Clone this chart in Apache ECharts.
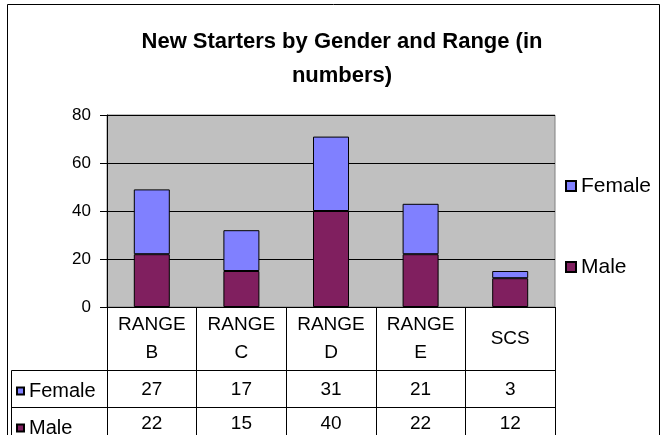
<!DOCTYPE html>
<html>
<head>
<meta charset="utf-8">
<script src="https://cdn.jsdelivr.net/npm/echarts@6/dist/echarts.min.js"></script>
<style>
html,body{margin:0;padding:0;background:#fff;}
#chart{width:664px;height:435px;}
</style>
</head>
<body>
<div id="chart"></div>
<script>
var categories = ['RANGE\nB', 'RANGE\nC', 'RANGE\nD', 'RANGE\nE', 'SCS'];
var femaleValues = [27, 17, 31, 21, 3];
var maleValues = [22, 15, 40, 22, 12];
var yTicks = [0, 20, 40, 60, 80];

var FONT = 'Liberation Sans, Arial, sans-serif';
var chart = echarts.init(document.getElementById('chart'), null, {renderer: 'canvas'});

var option = {
  backgroundColor: '#ffffff',
  animation: false,
  title: {
    text: 'New Starters by Gender and Range (in\nnumbers)',
    left: 337,
    textAlign: 'center',
    top: 20,
    textStyle: {fontFamily: FONT, fontWeight: 'bold', fontSize: 22, lineHeight: 34, color: '#000'}
  },
  legend: [
    {
      data: ['Female', 'Male'],
      orient: 'vertical',
      left: 565,
      top: 175,
      padding: 0,
      itemWidth: 10,
      itemHeight: 10,
      itemGap: 59,
      icon: 'rect',
      textStyle: {fontFamily: FONT, fontSize: 21, lineHeight: 22, color: '#000'}
    },
    {
      data: ['Female', 'Male'],
      orient: 'vertical',
      left: 16,
      top: 381,
      width: 90,
      height: 120,
      padding: 0,
      itemWidth: 7,
      itemHeight: 7,
      itemGap: 17,
      icon: 'rect',
      textStyle: {fontFamily: FONT, fontSize: 20, lineHeight: 18, color: '#000'}
    }
  ],
  grid: {
    left: 107, right: 109, top: 115, bottom: 128,
    show: true,
    backgroundColor: '#c0c0c0',
    borderColor: '#808080',
    borderWidth: 1
  },
  xAxis: [
    {
      type: 'category',
      data: categories,
      position: 'bottom',
      axisLine: {lineStyle: {color: '#000', width: 1}},
      axisTick: {show: true, interval: 0, length: 128, lineStyle: {color: '#000'}},
      axisLabel: {
        interval: 0, margin: 32, verticalAlign: 'middle',
        fontFamily: FONT, fontSize: 19, lineHeight: 28, color: '#000'
      }
    },
    {
      type: 'category',
      data: femaleValues.map(String),
      position: 'bottom',
      offset: 63,
      axisLine: {lineStyle: {color: '#000', width: 1}},
      axisTick: {show: false},
      axisLabel: {
        interval: 0, margin: 20, verticalAlign: 'middle',
        fontFamily: FONT, fontSize: 19, color: '#000'
      }
    },
    {
      type: 'category',
      data: maleValues.map(String),
      position: 'bottom',
      offset: 100,
      axisLine: {lineStyle: {color: '#000', width: 1}},
      axisTick: {show: false},
      axisLabel: {
        interval: 0, margin: 17, verticalAlign: 'middle',
        fontFamily: FONT, fontSize: 19, color: '#000'
      }
    }
  ],
  yAxis: {
    type: 'value',
    min: yTicks[0],
    max: yTicks[yTicks.length - 1],
    interval: yTicks[1] - yTicks[0],
    axisLine: {show: true, lineStyle: {color: '#000'}},
    axisTick: {show: true, length: 7, lineStyle: {color: '#000'}},
    axisLabel: {margin: 16, fontFamily: FONT, fontSize: 17, color: '#000'},
    splitLine: {show: true, lineStyle: {color: '#000', width: 1}}
  },
  series: [
    {
      name: 'Male',
      type: 'bar',
      stack: 'total',
      xAxisIndex: 0,
      barWidth: 36,
      data: maleValues,
      itemStyle: {color: '#801f5f', borderColor: '#000', borderWidth: 1}
    },
    {
      name: 'Female',
      type: 'bar',
      stack: 'total',
      xAxisIndex: 0,
      barWidth: 36,
      data: femaleValues,
      itemStyle: {color: '#8080ff', borderColor: '#000', borderWidth: 1}
    }
  ],
  graphic: [
    {type: 'rect', shape: {x: 7.5, y: 4.5, width: 652, height: 450}, style: {fill: null, stroke: '#000', lineWidth: 1}, silent: true},
    {type: 'line', shape: {x1: 11.5, y1: 370.5, x2: 11.5, y2: 440}, style: {stroke: '#000', lineWidth: 1}, silent: true},
    {type: 'line', shape: {x1: 11.5, y1: 370.5, x2: 107, y2: 370.5}, style: {stroke: '#000', lineWidth: 1}, silent: true},
    {type: 'line', shape: {x1: 11.5, y1: 407.5, x2: 107, y2: 407.5}, style: {stroke: '#000', lineWidth: 1}, silent: true}
  ]
};
chart.setOption(option);
</script>
</body>
</html>
